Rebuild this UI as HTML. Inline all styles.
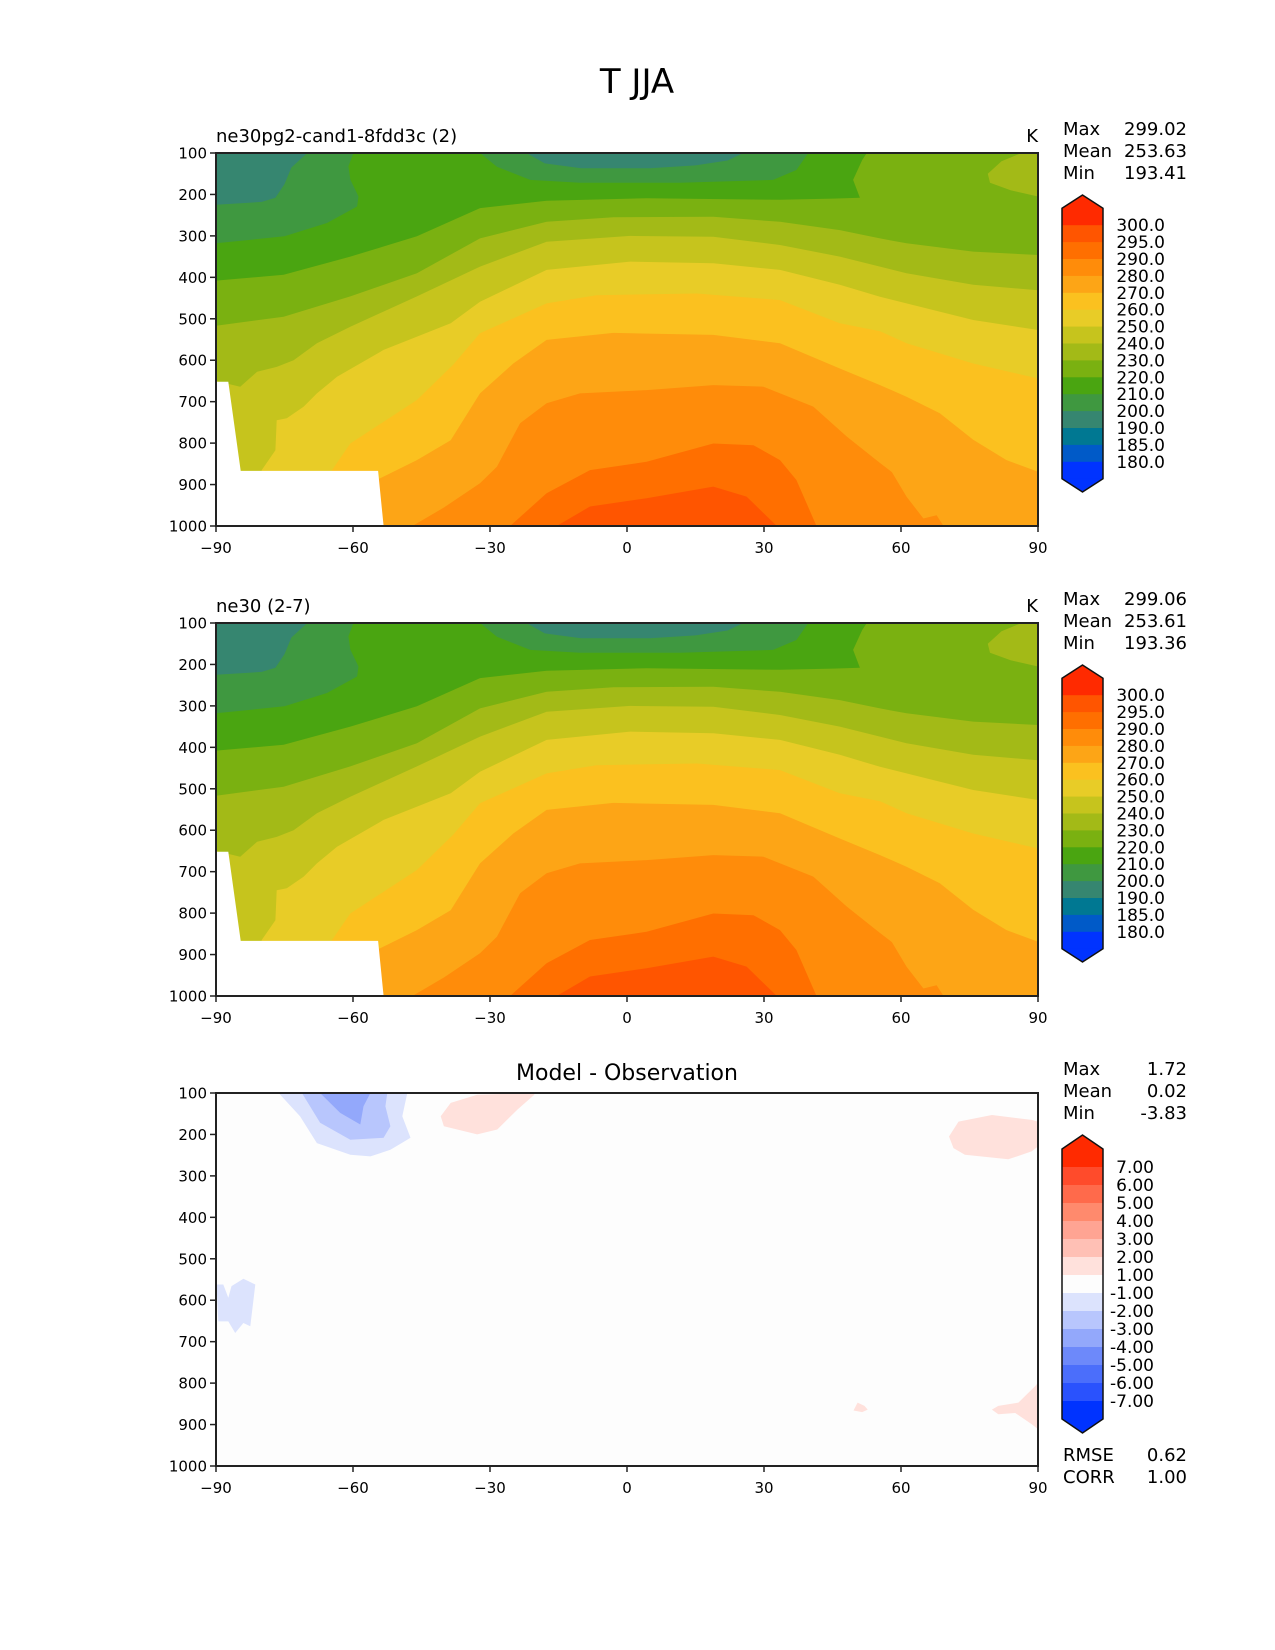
<!DOCTYPE html>
<html><head><meta charset="utf-8">
<style>
html,body{margin:0;padding:0;background:#fff;}
svg{display:block;font-family:"DejaVu Sans","Liberation Sans",sans-serif;}
</style></head>
<body>
<svg id="fig" width="1275" height="1650" viewBox="0 0 1275 1650" xmlns="http://www.w3.org/2000/svg">
<rect width="1275" height="1650" fill="#fff"/>
<text x="637" y="93" font-size="34" text-anchor="middle">T JJA</text>
</svg>
<script>
// ---------- data ----------
const xTicks = [-90,-60,-30,0,30,60,90];
const yTicks = [100,200,300,400,500,600,700,800,900,1000];
const tLevels = [200,210,220,230,240,250,260,270,280,290,295];
const tColors = ['#3f9840','#4aa511','#7ab111','#a3ba17','#c6c41d','#e8cc27','#fbc11f','#fda516','#ff8c0a','#ff6f00','#ff5500'];
const tBaseColor = '#368670';
// isotherm curves: [lat, pressure]; warmer below
const c200 = [[-90,225],[-80,218],[-77,208],[-75,175],[-73.5,135],[-70,100],[-22,100],[-18,125],[-10,137],[5,137],[15,130],[22,118],[25.5,100],[90,100]];
const c210 = [[-90,318],[-75,301],[-65.7,269],[-59.1,229],[-58.8,205],[-60.6,164],[-61,132],[-59.9,100],[-32.2,100],[-28.5,133],[-21.2,165],[-10.3,172],[11.6,172],[32,165],[37.1,141],[39.7,100],[90,100]];
const c220 = [[-90,408],[-75.2,394],[-60.6,350],[-46,301],[-32.2,233],[-17.6,215],[4.3,209],[33.5,213],[45,210],[51,208],[49.5,165],[51.5,117],[52.5,100],[90,100]];
const c230 = [[-90,517],[-75.2,495],[-60.6,446],[-46,390],[-32.2,306],[-17.6,266],[-3,255],[18.9,254],[33.5,266],[46.6,286],[55.4,306],[61.2,318],[75.8,338],[90,346]];
const c240 = [[-90,650],[-84.7,664],[-81,628],[-76.7,616],[-73,600],[-67.9,559],[-60.6,519],[-46,446],[-32.2,374],[-17.6,314],[0.7,300],[18.9,302],[33.5,322],[46.6,350],[55.4,374],[61.2,390],[75.8,418],[90,431]];
const c250 = [[-90,1000],[-81,1000],[-80,865],[-77,817],[-76.7,745],[-74.5,740],[-70.8,712],[-67.9,680],[-63.5,640],[-53.3,575],[-38.6,511],[-32.2,459],[-17.6,382],[0.7,362],[18.9,366],[33.5,382],[46.6,418],[55.4,447],[61.2,463],[75.8,503],[90,527]];
const c260 = [[-90,1000],[-66,1000],[-64.6,865],[-60.6,801],[-46,696],[-38,610],[-32.2,535],[-17.6,463],[-6.7,443],[15.3,439],[33.5,455],[46.6,511],[55.4,530],[61.2,559],[75.8,608],[90,644]];
const c270 = [[-90,1000],[-60,1000],[-55,890],[-46,841],[-38.6,793],[-32.2,680],[-24.9,608],[-17.6,551],[-3,534],[18.9,539],[33.5,559],[46.6,620],[55.4,660],[61.2,688],[68.5,728],[75.8,792],[83.1,841],[90,869]];
const c280 = [[-90,1000],[-47,1000],[-40,955],[-32.2,897],[-28.5,857],[-23.4,752],[-17.6,704],[-10.3,680],[4.3,672],[18.9,660],[29.9,664],[40.8,712],[48.1,784],[55.4,848],[58,870],[61.2,929],[64.9,982],[67.8,974],[69.3,1000],[90,1000]];
const c290 = [[-90,1000],[-25.6,1000],[-17.6,921],[-8.1,865],[4.3,845],[18.9,801],[27.7,805],[33.5,841],[37.1,889],[41.5,1000],[90,1000]];
const c295 = [[-90,1000],[-15.4,1000],[-8.1,953],[4.3,933],[18.9,905],[26.2,929],[32.8,1000],[90,1000]];
const tCurves = [c200,c210,c220,c230,c240,c250,c260,c270,c280,c290,c295];
const patch230 = [[79,150],[82,120],[86.4,100],[90,100],[90,205],[84,190],[79.5,172]];
const maskPoly = [[-90,652],[-87.3,652],[-84.6,867],[-54.5,867],[-53.3,1000],[-90,1000]];
// colorbar
const cbLabels1 = ['300.0','295.0','290.0','280.0','270.0','260.0','250.0','240.0','230.0','220.0','210.0','200.0','190.0','185.0','180.0'];
const cbColors1 = ['#ff2a00','#ff5500','#ff6f00','#ff8c0a','#fda516','#fbc11f','#e8cc27','#c6c41d','#a3ba17','#7ab111','#4aa511','#3f9840','#368670','#007892','#005ac8','#0033ff'];
const stats1 = ['299.02','253.63','193.41'];
const stats2 = ['299.06','253.61','193.36'];
const stats3 = ['1.72','0.02','-3.83'];
// difference plot
const cbLabels3 = ['7.00','6.00','5.00','4.00','3.00','2.00','1.00','-1.00','-2.00','-3.00','-4.00','-5.00','-6.00','-7.00'];
const cbColors3 = ['#ff2a00','#ff4b2b','#ff6a4b','#ff8a6d','#ffa493','#ffc0b5','#ffe1dc','#fdfdfd','#dce3fd','#b8c6fd','#93a8fb','#6d89fa','#4b6efb','#2a52fd','#0033ff'];
const dBlue1 = [[-76.3,100],[-71.6,156],[-67.9,221],[-60.6,249],[-56.2,253],[-51.8,237],[-47.4,208],[-49.2,156],[-48.1,100]];
const dBlue2 = [[-71.2,100],[-67.2,172],[-60.6,213],[-53.3,208],[-51.8,180],[-52.9,132],[-52.5,100]];
const dBlue3 = [[-67.2,100],[-62.8,148],[-58.4,176],[-57.7,132],[-56.2,100]];
const dBlueLow = [[-89.9,562],[-88.4,562],[-87.3,594],[-86.6,566],[-84,548],[-81.4,562],[-82.5,663],[-84,655],[-85.8,679],[-87.3,651],[-89.5,651]];
const dPink1 = [[-40.8,156],[-38.6,124],[-32.8,104],[-20.3,100],[-20.3,104],[-24,140],[-28.4,188],[-32.8,200],[-40.1,180]];
const dPink2 = [[70.5,205],[72.6,169],[79.9,153],[88.6,165],[90,169],[90,229],[88.6,241],[83.5,260],[74,249],[71.5,233]];
const dPink3 = [[79.9,864],[81.3,855],[85.7,847],[89.4,807],[90,799],[90,911],[88.6,899],[85,872],[81.3,875]];
const dPink4 = [[49.6,866],[50.5,847],[52,855],[52.7,864],[51.5,870]];
const dRegions = [dBlue1,dBlue2,dBlue3,dBlueLow,dPink1,dPink2,dPink3,dPink4];
const dRegionColors = ['#dce3fd','#b8c6fd','#93a8fb','#dce3fd','#ffe1dc','#ffe1dc','#ffe1dc','#ffe1dc'];

// ---------- rendering ----------
const NS='http://www.w3.org/2000/svg';
const fig=document.getElementById('fig');
const X0=216, X1=1038;
function el(tag,attrs,parent){const e=document.createElementNS(NS,tag);for(const k in attrs)e.setAttribute(k,attrs[k]);(parent||fig).appendChild(e);return e;}
function makePanel(top){
  const bottom=top+373;
  return {top:top,bottom:bottom,
    sx:lat=>X0+(lat+90)/180*(X1-X0),
    sy:p=>top+(p-100)/900*(bottom-top)};
}
function poly(ax,pts,fill,parent,name){
  const s=pts.map(q=>ax.sx(q[0]).toFixed(1)+','+ax.sy(q[1]).toFixed(1)).join(' ');
  const e=el('polygon',{points:s,fill:fill},parent);
  
  
  return e;
}
function axes(ax,name){
  const g=el('g',{});
  
  
  el('rect',{x:X0,y:ax.top,width:X1-X0,height:ax.bottom-ax.top,fill:'none',stroke:'#222','stroke-width':2},g);
  xTicks.forEach(v=>{
    const x=ax.sx(v);
    el('line',{x1:x,x2:x,y1:ax.bottom,y2:ax.bottom+6,stroke:'#222','stroke-width':1.5},g);
    const t=el('text',{x:x,y:ax.bottom+27,'font-size':15,'text-anchor':'middle'},g);
    t.textContent=(v<0?'\u2212'+(-v):String(v));
    
    
  });
  yTicks.forEach(v=>{
    const y=ax.sy(v);
    el('line',{x1:X0-6,x2:X0,y1:y,y2:y,stroke:'#222','stroke-width':1.5},g);
    const t=el('text',{x:X0-9,y:y+5.5,'font-size':15,'text-anchor':'end'},g);
    t.textContent=String(v);
    
    
  });
}
function stats(top,vals,name){
  const labs=['Max','Mean','Min'];
  labs.forEach((l,i)=>{
    const y=top-18+i*22;
    const a=el('text',{x:1063,y:y,'font-size':18});a.textContent=l;
    
    
    const b=el('text',{x:1187,y:y,'font-size':18,'text-anchor':'end'});b.textContent=vals[i];
    
    
  });
}
function colorbar(apexTop,rectTop,cellH,colors,labels,labelX,name){
  const g=el('g',{});
  
  
  const xl=1062,xr=1103,xm=(xl+xr)/2;
  const n=colors.length;
  const rectBot=rectTop+n*cellH;
  const apexBot=rectBot+(rectTop-apexTop);
  el('polygon',{points:`${xl},${rectTop+0.5} ${xm},${apexTop} ${xr},${rectTop+0.5}`,fill:colors[0]},g);
  for(let i=0;i<n;i++){
    const r=el('rect',{x:xl,y:rectTop+i*cellH,width:xr-xl,height:cellH+0.5,fill:colors[i]},g);
    
    
  }
  el('polygon',{points:`${xl},${rectBot-0.5} ${xm},${apexBot} ${xr},${rectBot-0.5}`,fill:colors[n-1]},g);
  el('polygon',{points:`${xl},${rectTop} ${xm},${apexTop} ${xr},${rectTop} ${xr},${rectBot} ${xm},${apexBot} ${xl},${rectBot}`,fill:'none',stroke:'#111','stroke-width':1.5},g);
  labels.forEach((l,i)=>{
    const t=el('text',{x:labelX,y:rectTop+(i+1)*cellH+6,'font-size':17,'text-anchor':'end'},g);
    t.textContent=l;
    
    
  });
}
function tempPanel(top,title,st,name){
  const ax=makePanel(top);
  const g=el('g',{});
  
  
  const base=el('rect',{x:X0,y:ax.top,width:X1-X0,height:ax.bottom-ax.top,fill:tBaseColor},g);
  
  
  tCurves.forEach((c,i)=>{
    const pts=c.concat([[90,1000],[-90,1000]]);
    poly(ax,pts,tColors[i],g,'contour-band-'+tLevels[i]);
    if(tLevels[i]===230) poly(ax,patch230,tColors[i],g,'contour-patch-230');
  });
  poly(ax,maskPoly,'#ffffff',g,'missing-data-mask');
  axes(ax,name);
  const t=el('text',{x:X0,y:top-11,'font-size':18});t.textContent=title;
  
  
  const k=el('text',{x:X1,y:top-11,'font-size':18,'text-anchor':'end'});k.textContent='K';
  
  
  stats(top,st,name);
  colorbar(top+42,top+55.3,16.9,cbColors1,cbLabels1,1165,name);
}
tempPanel(153,'ne30pg2-cand1-8fdd3c (2)',stats1,'test-panel');
tempPanel(623,'ne30 (2-7)',stats2,'reference-panel');

// difference panel
(function(){
  const top=1093, ax=makePanel(top);
  const g=el('g',{});
  
  
  el('rect',{x:X0,y:ax.top,width:X1-X0,height:ax.bottom-ax.top,fill:'#fdfdfd'},g);
  dRegions.forEach((r,i)=>poly(ax,r,dRegionColors[i],g,'diff-region'));
  axes(ax,'diff-panel');
  const t=el('text',{x:627,y:1080,'font-size':22,'text-anchor':'middle'});t.textContent='Model - Observation';
  
  
  stats(top,stats3,'diff-panel');
  colorbar(1135,1149,18,cbColors3,cbLabels3,1154,'diff-panel');
  [['RMSE','0.62',1461],['CORR','1.00',1483]].forEach(r=>{
    const a=el('text',{x:1063,y:r[2],'font-size':18});a.textContent=r[0];
    
    
    const b=el('text',{x:1187,y:r[2],'font-size':18,'text-anchor':'end'});b.textContent=r[1];
    
    
  });
})();
</script>
</body></html>
